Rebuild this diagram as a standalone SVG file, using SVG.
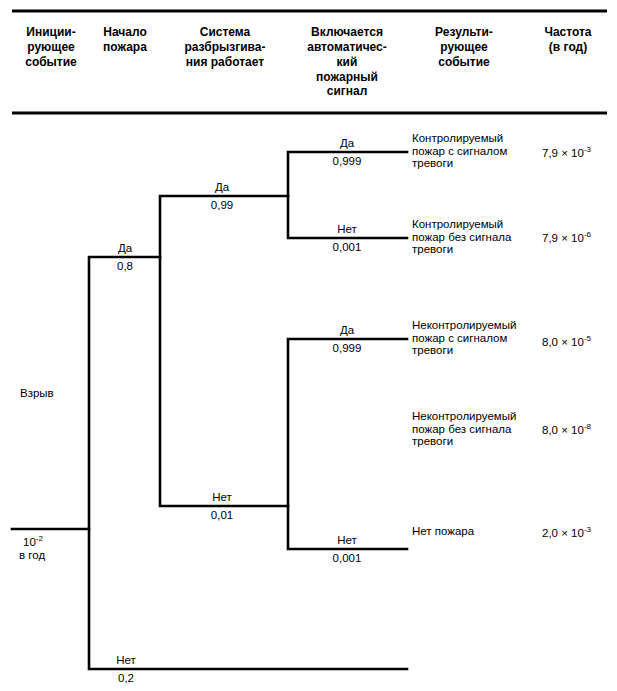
<svg xmlns="http://www.w3.org/2000/svg" width="617" height="691" viewBox="0 0 617 691">
<style>
.hd{font-family:"Liberation Sans",Arial,sans-serif;font-size:12px;font-weight:bold;text-anchor:middle;fill:#000}
.t{font-family:"Liberation Sans",Arial,sans-serif;font-size:11.5px;fill:#000}
.c{text-anchor:middle}
.sup{font-size:8px}
.rule{stroke:#000;stroke-width:2.8;fill:none}
.br{stroke:#000;stroke-width:2.6;fill:none;stroke-linecap:square;stroke-linejoin:miter}
</style>
<rect width="617" height="691" fill="#fff"/>
<g id="header">
<line class="rule" x1="12" y1="11" x2="607" y2="11"/>
<line class="rule" x1="12" y1="113" x2="607" y2="113"/>
<text class="hd" x="51"><tspan x="51" y="36">Иниции-</tspan><tspan x="51" y="51">рующее</tspan><tspan x="51" y="66">событие</tspan></text>
<text class="hd"><tspan x="125" y="36">Начало</tspan><tspan x="125" y="51">пожара</tspan></text>
<text class="hd"><tspan x="225" y="36">Система</tspan><tspan x="225" y="51">разбрызгива-</tspan><tspan x="225" y="66">ния работает</tspan></text>
<text class="hd"><tspan x="347" y="36">Включается</tspan><tspan x="347" y="51">автоматичес-</tspan><tspan x="347" y="66">кий</tspan><tspan x="347" y="81">пожарный</tspan><tspan x="347" y="95">сигнал</tspan></text>
<text class="hd"><tspan x="464" y="36">Результи-</tspan><tspan x="464" y="51">рующее</tspan><tspan x="464" y="66">событие</tspan></text>
<text class="hd"><tspan x="568" y="36">Частота</tspan><tspan x="568" y="51">(в год)</tspan></text>
</g>
<g id="connectors">
<path class="br" d="M12,529 H89"/>
<path class="br" d="M407,257 M160,257 H89 V669 H407"/>
<path class="br" d="M288,196 H160 V506 H288"/>
<path class="br" d="M407,152 H288 V238 H407"/>
<path class="br" d="M407,339 H288 V549 H407"/>
</g>
<g id="initiating-event">
<text class="t" x="20" y="397">Взрыв</text>
<text class="t" x="23" y="546">10<tspan class="sup" dy="-5">-2</tspan></text>
<text class="t" x="19" y="559">в год</text>
</g>
<g id="fire-yes">
<text class="t c" x="125" y="252">Да</text>
<text class="t c" x="125" y="270">0,8</text>
</g>
<g id="fire-no">
<text class="t c" x="126" y="664">Нет</text>
<text class="t c" x="126" y="682">0,2</text>
</g>
<g id="sprinkler-yes">
<text class="t c" x="222" y="191">Да</text>
<text class="t c" x="222" y="209">0,99</text>
</g>
<g id="sprinkler-no">
<text class="t c" x="222" y="501">Нет</text>
<text class="t c" x="222" y="519">0,01</text>
</g>
<g id="alarm-yes-1">
<text class="t c" x="347" y="147">Да</text>
<text class="t c" x="347" y="165">0,999</text>
</g>
<g id="alarm-no-1">
<text class="t c" x="347" y="233">Нет</text>
<text class="t c" x="347" y="251">0,001</text>
</g>
<g id="alarm-yes-2">
<text class="t c" x="347" y="334">Да</text>
<text class="t c" x="347" y="352">0,999</text>
</g>
<g id="alarm-no-2">
<text class="t c" x="347" y="544">Нет</text>
<text class="t c" x="347" y="562">0,001</text>
</g>
<g id="outcome-1">
<text class="t"><tspan x="412" y="142">Контролируемый</tspan><tspan x="412" y="154.5">пожар с сигналом</tspan><tspan x="412" y="167">тревоги</tspan></text>
<text class="t" x="542" y="157">7,9 × 10<tspan class="sup" dy="-5">-3</tspan></text>
</g>
<g id="outcome-2">
<text class="t"><tspan x="412" y="228">Контролируемый</tspan><tspan x="412" y="240.5">пожар без сигнала</tspan><tspan x="412" y="253">тревоги</tspan></text>
<text class="t" x="542" y="242">7,9 × 10<tspan class="sup" dy="-5">-6</tspan></text>
</g>
<g id="outcome-3">
<text class="t"><tspan x="412" y="329">Неконтролируемый</tspan><tspan x="412" y="341.5">пожар с сигналом</tspan><tspan x="412" y="354">тревоги</tspan></text>
<text class="t" x="542" y="346">8,0 × 10<tspan class="sup" dy="-5">-5</tspan></text>
</g>
<g id="outcome-4">
<text class="t"><tspan x="412" y="420">Неконтролируемый</tspan><tspan x="412" y="432.5">пожар без сигнала</tspan><tspan x="412" y="445">тревоги</tspan></text>
<text class="t" x="542" y="434">8,0 × 10<tspan class="sup" dy="-5">-8</tspan></text>
</g>
<g id="outcome-5">
<text class="t" x="412" y="535">Нет пожара</text>
<text class="t" x="542" y="537">2,0 × 10<tspan class="sup" dy="-5">-3</tspan></text>
</g>
</svg>
